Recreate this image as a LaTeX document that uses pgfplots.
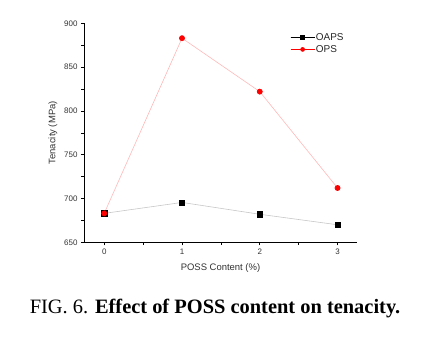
\documentclass[border=0pt]{standalone}
\usepackage{fontspec}
\setmainfont{Liberation Sans}
\newfontfamily\timesfont{Liberation Serif}
\usepackage{pgfplots}
\pgfplotsset{compat=1.18}
\begin{document}
\begin{tikzpicture}
\useasboundingbox (0,0) rectangle (436bp,351bp);
\begin{axis}[
  at={(84bp,108.7bp)}, anchor=south west,
  scale only axis, width=273bp, height=219bp,
  xmin=-0.26, xmax=3.25, ymin=650, ymax=900,
  axis lines*=left,
  axis line style={line width=0.8pt},
  xtick={0,1,2,3}, ytick={650,700,...,900},
  minor x tick num=1, minor y tick num=1,
  tick align=outside,
  major tick length=3bp, minor tick length=2.5bp,
  tick style={line width=0.6pt, black},
  /pgf/number format/assume math mode=true,
  ticklabel style={font=\fontsize{8}{9}\selectfont, text=black!80},
  xlabel={POSS Content (\%)},
  ylabel={Tenacity (MPa)},
  label style={font=\fontsize{9.5}{11}\selectfont, text=black!80},
  xlabel style={at={(axis description cs:0.5,0)}, anchor=center, yshift=-25.5bp},
  ylabel style={at={(axis description cs:-0.1136,0.5)}, anchor=center},
  legend style={at={(axis description cs:0.755,0.96)}, anchor=north west,
    draw=none, fill=none, font=\fontsize{10}{11}\selectfont,
    row sep=1.5bp, inner sep=0pt,
    nodes={inner sep=1pt, text=black!85}},
  legend cell align=left,
  legend image code/.code={
    \draw[#1] (0bp,0bp) -- (24bp,0bp);
    \draw[#1, mark repeat=2, mark phase=2] plot coordinates {(0bp,0bp) (12bp,0bp) (24bp,0bp)};
  },
]
\addlegendimage{black, line width=0.6pt, mark=square*, mark size=2bp, mark options={fill=black}}
\addlegendentry{OAPS}
\addlegendimage{red, line width=0.6pt, mark=*, mark size=2bp, mark options={fill=red}}
\addlegendentry{OPS}
\addplot[forget plot, color=black!22, line width=0.6pt, mark=square*, mark size=2.6bp, mark options={fill=black, draw=black}]
  coordinates {(0,683) (1,695.5) (2,682) (3,670)};
\addplot[forget plot, color=red!28, line width=0.6pt, mark=*, mark size=2.6bp, mark options={fill=red, draw=red}]
  coordinates {(0,683) (1,883) (2,822) (3,712)};
\end{axis}
\node[font=\timesfont\fontsize{20.5}{24}\selectfont, anchor=base] at (215bp,37.7bp) {FIG. 6. \textbf{Effect of POSS content on tenacity.}};
\end{tikzpicture}
\end{document}
